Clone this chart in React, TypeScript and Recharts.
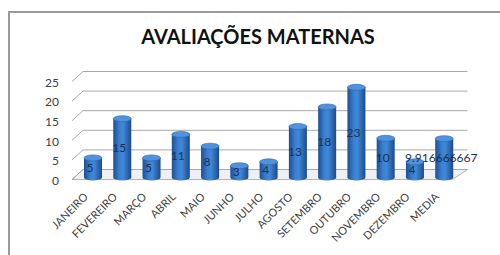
import React from 'react';
import { BarChart, Bar, XAxis, YAxis, CartesianGrid, LabelList } from 'recharts';

const meses = [
  'JANEIRO', 'FEVEREIRO', 'MARÇO', 'ABRIL', 'MAIO', 'JUNHO', 'JULHO',
  'AGOSTO', 'SETEMBRO', 'OUTUBRO', 'NOVEMBRO', 'DEZEMBRO', 'MEDIA',
];
const avaliacoes = [5, 15, 5, 11, 8, 3, 4, 13, 18, 23, 10, 4, 9.916666667];
const yTicks = [0, 5, 10, 15, 20, 25];

const data = meses.map((mes, i) => ({ mes, valor: avaliacoes[i] }));

const FONT = 'Lato, "Open Sans", sans-serif';

// 3D-ish cylinder like the old Excel column charts
const Cylinder = (props: any) => {
  const { x, y, width, height } = props;
  if (!height || height <= 0) return null;
  const rx = width / 2;
  const ry = 3;
  const cx = x + rx;
  const bottom = y + height;
  return (
    <g>
      <path
        d={`M${x},${y} L${x},${bottom} A${rx},${ry} 0 0 0 ${x + width},${bottom} L${x + width},${y} Z`}
        fill="url(#cylBody)"
      />
      <ellipse cx={cx} cy={y} rx={rx} ry={ry} fill="#5093dc" stroke="#2a62ad" strokeWidth={0.6} />
    </g>
  );
};

// grid lines drawn as back wall + left wall, shifted for the perspective
const WallLine = (props: any) => {
  const { x1, x2, y1, index } = props;
  const dx = 11;
  const dy = 8;
  const items = [];
  if (y1 > 170) {
    items.push(
      <polygon
        key="floor"
        points={`${x1 - 6},${y1 + 2} ${x2 - 6},${y1 + 2} ${x2 + dx - 2},${y1 - dy} ${x1 + dx - 6},${y1 - dy}`}
        fill="#eef0f3"
        stroke="#b4b4b4"
        strokeWidth={1}
      />
    );
  }
  items.push(
    <polyline
      key="l"
      points={`${x1 - 6},${y1 + 2} ${x1 + dx - 6},${y1 - dy} ${x2 + dx - 2},${y1 - dy}`}
      fill="none"
      stroke="#a8a8a8"
      strokeWidth={1}
    />
  );
  return <g key={`g-${index}`}>{items}</g>;
};

const XTick = (props: any) => {
  const { x, y, payload } = props;
  const tx = x - 4;
  const ty = y + 12;
  return (
    <text
      x={tx}
      y={ty}
      transform={`rotate(-45 ${tx} ${ty})`}
      textAnchor="end"
      fontSize={11}
      fontFamily={FONT}
      fill="#404040"
    >
      {payload.value}
    </text>
  );
};

export default function App() {
  return (
    <div style={{ position: 'absolute', left: 0, top: 0, width: 500, height: 255, background: '#fff', overflow: 'hidden' }}>
      <div
        style={{
          position: 'absolute', left: 8, top: 11, width: 492, height: 244,
          borderTop: '2px solid #9a9a9a', borderLeft: '2px solid #9a9a9a',
        }}
      />
      <div
        style={{
          position: 'absolute', left: 0, top: 24, width: 516, textAlign: 'center',
          fontFamily: FONT, fontWeight: 700, fontSize: 20, color: '#111',
        }}
      >
        AVALIAÇÕES MATERNAS
      </div>
      <div style={{ position: 'absolute', left: 0, top: 0 }}>
        <BarChart
          width={500}
          height={255}
          data={data}
          margin={{ top: 79.5, right: 41.5, bottom: 0, left: 18 }}
          barSize={18}
        >
          <defs>
            <linearGradient id="cylBody" x1="0" y1="0" x2="1" y2="0">
              <stop offset="0%" stopColor="#1d4f92" />
              <stop offset="35%" stopColor="#3a80d2" />
              <stop offset="55%" stopColor="#4088d8" />
              <stop offset="100%" stopColor="#1c4a8a" />
            </linearGradient>
          </defs>
          <CartesianGrid vertical={false} horizontal={WallLine} />
          <XAxis
            dataKey="mes"
            axisLine={false}
            tickLine={false}
            interval={0}
            tick={<XTick />}
            height={77.5}
          />
          <YAxis
            ticks={yTicks}
            domain={[0, 25]}
            interval={0}
            axisLine={false}
            tickLine={false}
            width={60}
            tick={{ fontSize: 12, fill: '#404040', fontFamily: FONT, dy: 3, dx: -11 }}
          />
          <Bar dataKey="valor" shape={<Cylinder />} isAnimationActive={false}>
            <LabelList
              dataKey="valor"
              position="center"
              offset={0}
              fill="#1b3050"
              fontSize={12}
              fontFamily={FONT}
              formatter={(v: any) => String(v)}
              dx={-3}
            />
          </Bar>
        </BarChart>
      </div>
    </div>
  );
}
